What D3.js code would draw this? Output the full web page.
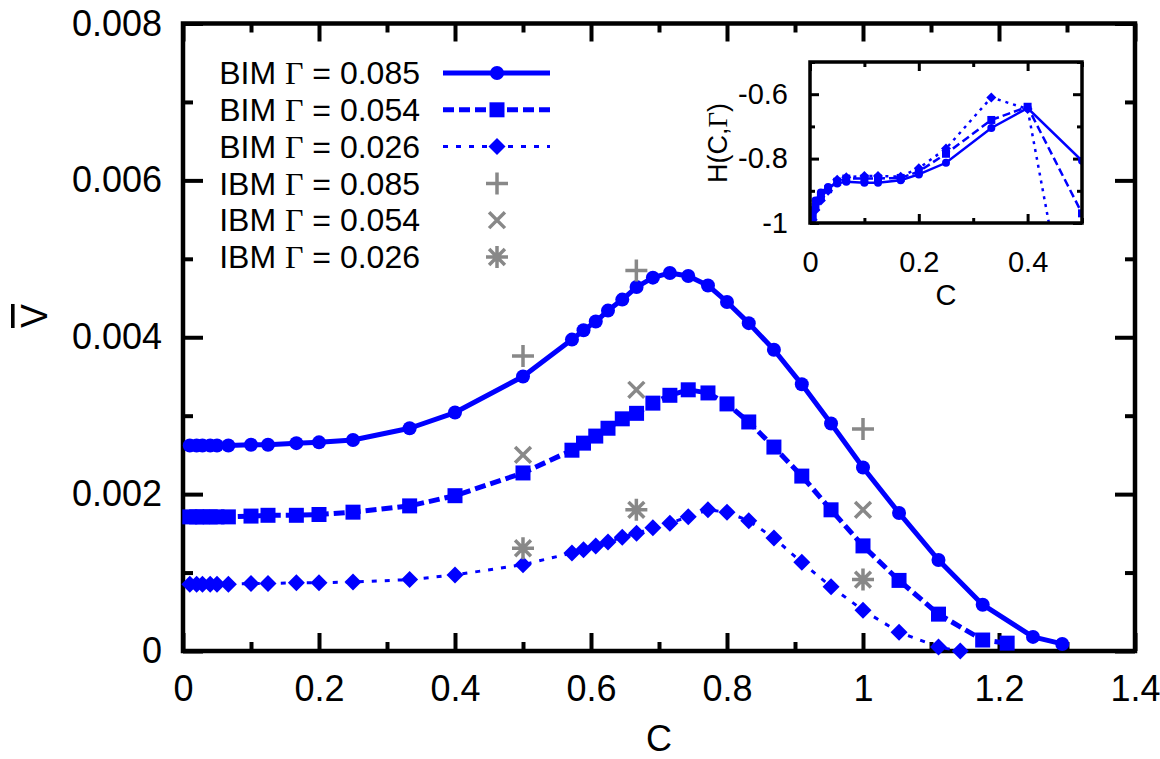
<!DOCTYPE html>
<html>
<head>
<meta charset="utf-8">
<script src="https://cdn.jsdelivr.net/npm/d3@7"></script>
<style>
body { margin: 0; background: #fff; }
svg { display: block; font-family: 'Liberation Sans', Arial, sans-serif; }
</style>
</head>
<body>
<div class="chart"></div>
<script>

// BIM curves (lines + points)
const c085 = [0.01, 0.02, 0.0286, 0.04, 0.05, 0.0667, 0.1, 0.125, 0.1667, 0.2, 0.25, 0.3333, 0.4, 0.5, 0.572, 0.589, 0.607, 0.625, 0.646, 0.667, 0.691, 0.716, 0.743, 0.772, 0.8, 0.832, 0.869, 0.91, 0.953, 1.0, 1.053, 1.111, 1.176, 1.25, 1.293]
const v085 = [0.00262, 0.00262, 0.00262, 0.00262, 0.00262, 0.00262, 0.00263, 0.00263, 0.00265, 0.00266, 0.00269, 0.00284, 0.00304, 0.00350, 0.00397, 0.00409, 0.00420, 0.00434, 0.00448, 0.00464, 0.00476, 0.00482, 0.00478, 0.00466, 0.00445, 0.00418, 0.00384, 0.00340, 0.00290, 0.00234, 0.00176, 0.00116, 0.00059, 0.00018, 0.00009]

const c054 = [0.01, 0.02, 0.0286, 0.04, 0.05, 0.0667, 0.1, 0.125, 0.1667, 0.2, 0.25, 0.3333, 0.4, 0.5, 0.572, 0.589, 0.607, 0.625, 0.646, 0.667, 0.691, 0.716, 0.743, 0.772, 0.8, 0.832, 0.869, 0.91, 0.953, 1.0, 1.053, 1.111, 1.176, 1.212]
const v054 = [0.00171, 0.00171, 0.00171, 0.00171, 0.00171, 0.00171, 0.00172, 0.00173, 0.00173, 0.00174, 0.00177, 0.00185, 0.00198, 0.00227, 0.00256, 0.00265, 0.00274, 0.00284, 0.00296, 0.00303, 0.00316, 0.00326, 0.00333, 0.00329, 0.00315, 0.00292, 0.00260, 0.00223, 0.00180, 0.00134, 0.00090, 0.00047, 0.00014, 0.00010]

const c026 = [0.01, 0.02, 0.0286, 0.04, 0.05, 0.0667, 0.1, 0.125, 0.1667, 0.2, 0.25, 0.3333, 0.4, 0.5, 0.572, 0.589, 0.607, 0.625, 0.646, 0.667, 0.691, 0.716, 0.743, 0.772, 0.8, 0.832, 0.869, 0.91, 0.953, 1.0, 1.053, 1.111, 1.143]
const v026 = [0.00085, 0.00085, 0.00085, 0.00085, 0.00085, 0.00085, 0.00086, 0.00086, 0.00087, 0.00087, 0.00088, 0.00091, 0.00097, 0.00110, 0.00125, 0.00129, 0.00134, 0.00139, 0.00145, 0.00150, 0.00157, 0.00163, 0.00171, 0.00180, 0.00177, 0.00166, 0.00144, 0.00113, 0.00082, 0.00052, 0.00024, 0.00005, 0]

// IBM points
const cIBM = [0.5, 0.6667, 1.0]
const ibm085 = [0.00376, 0.00485, 0.00283]
const ibm054 = [0.00250, 0.00333, 0.00180]
const ibm026 = [0.00131, 0.00180, 0.00091]

// inset H(C, Gamma)
const cInset = [0.005, 0.01, 0.02, 0.0333, 0.05, 0.0667, 0.1, 0.125, 0.1667, 0.2, 0.25, 0.3333, 0.4, 0.5]
const h085 = [-0.96, -0.93, -0.905, -0.888, -0.877, -0.872, -0.875, -0.875, -0.867, -0.849, -0.813, -0.705, -0.643, -0.807]
const h054 = [-0.98, -0.95, -0.92, -0.895, -0.872, -0.862, -0.862, -0.862, -0.86, -0.84, -0.785, -0.68, -0.639, -0.97]
const h026 = [-0.99, -0.96, -0.93, -0.9, -0.866, -0.858, -0.854, -0.854, -0.856, -0.83, -0.769, -0.61, -0.646, -1.55]

const legendLabels = [
	['BIM', '0.085'], ['BIM', '0.054'], ['BIM', '0.026'],
	['IBM', '0.085'], ['IBM', '0.054'], ['IBM', '0.026']
]

const blue = '#0000ff'
const grey = '#888888'

let width = 1160
let height = 759

let svg = d3.select('.chart').append('svg')
.attr('width', width)
.attr('height', height)

let x = d3.scaleLinear().domain([0, 1.4]).range([183, 1135])
let y = d3.scaleLinear().domain([0, 0.008]).range([651, 23.5])

const fmt = d => String(+d.toFixed(4))

// marker shapes
const markPath = (type, s) => {
	if (type === 'circle') return d3.symbol(d3.symbolCircle, Math.PI * s * s)()
	if (type === 'square') return d3.symbol(d3.symbolSquare, (2 * s) * (2 * s))()
	if (type === 'diamond') return `M0,${-s}L${s},0L0,${s}L${-s},0Z`
	let plus = `M${-s},0L${s},0M0,${-s}L0,${s}`
	let k = s * 0.72
	let cross = `M${-k},${-k}L${k},${k}M${-k},${k}L${k},${-k}`
	if (type === 'plus') return plus
	if (type === 'cross') return cross
	return plus + cross
}

// axes: ticks on all four sides pointing inwards
const drawTicks = (g, axis) => {
	g.call(axis)
	g.select('.domain').remove()
	g.selectAll('.tick line').attr('stroke', '#000').attr('stroke-width', 4)
}

let xMajor = x.ticks(7)
let xMinor = x.ticks(14).filter(d => !xMajor.some(m => Math.abs(m - d) < 1e-9))
let yMajor = y.ticks(4)
let yMinor = y.ticks(8).filter(d => !yMajor.some(m => Math.abs(m - d) < 1e-9))

let axes = svg.append('g')

axes.append('g').attr('transform', 'translate(0,651)')
.call(drawTicks, d3.axisBottom(x).tickValues(xMajor).tickSize(-18).tickPadding(24).tickFormat(fmt))
axes.append('g').attr('transform', 'translate(0,651)')
.call(drawTicks, d3.axisBottom(x).tickValues(xMinor).tickSize(-9).tickFormat(''))
axes.append('g').attr('transform', 'translate(0,23.5)')
.call(drawTicks, d3.axisTop(x).tickValues(xMajor).tickSize(-18).tickFormat(''))
axes.append('g').attr('transform', 'translate(0,23.5)')
.call(drawTicks, d3.axisTop(x).tickValues(xMinor).tickSize(-9).tickFormat(''))

axes.append('g').attr('transform', 'translate(183,0)')
.call(drawTicks, d3.axisLeft(y).tickValues(yMajor).tickSize(-20).tickPadding(21).tickFormat(fmt))
axes.append('g').attr('transform', 'translate(183,0)')
.call(drawTicks, d3.axisLeft(y).tickValues(yMinor).tickSize(-10).tickFormat(''))
axes.append('g').attr('transform', 'translate(1135,0)')
.call(drawTicks, d3.axisRight(y).tickValues(yMajor).tickSize(-20).tickFormat(''))
axes.append('g').attr('transform', 'translate(1135,0)')
.call(drawTicks, d3.axisRight(y).tickValues(yMinor).tickSize(-10).tickFormat(''))

axes.selectAll('.tick text')
.attr('font-family', "'Liberation Sans', Arial, sans-serif")
.attr('font-size', 36)
.attr('fill', '#000')

svg.append('rect')
.attr('x', x(0)).attr('y', y(0.008))
.attr('width', x(1.4) - x(0)).attr('height', y(0) - y(0.008))
.attr('fill', 'none').attr('stroke', '#000').attr('stroke-width', 4.5)

// axis titles
svg.append('text')
.attr('x', (x(0) + x(1.4)) / 2).attr('y', 751)
.attr('text-anchor', 'middle').attr('font-size', 36)
.text('C')

svg.append('text')
.attr('transform', 'translate(47,316) rotate(-90)')
.attr('text-anchor', 'middle').attr('font-size', 36)
.style('text-decoration', 'overline')
.text('V')

// BIM series
const series = [
	{c: c085, v: v085, shape: 'circle', size: 7, lw: 5, dash: null},
	{c: c054, v: v054, shape: 'square', size: 7.5, lw: 5, dash: '11,5'},
	{c: c026, v: v026, shape: 'diamond', size: 8.5, lw: 3, dash: '5,8'}
]

let line = d3.line().x(d => x(d[0])).y(d => y(d[1]))

series.forEach(s => {
	let pts = d3.zip(s.c, s.v)
	svg.append('path')
	.attr('d', line(pts))
	.attr('fill', 'none')
	.attr('stroke', blue)
	.attr('stroke-width', s.lw)
	.attr('stroke-dasharray', s.dash)
	.attr('stroke-linejoin', 'round')

	svg.append('g')
	.selectAll('path')
	.data(pts)
	.enter()
	.append('path')
	.attr('transform', d => `translate(${x(d[0])},${y(d[1])})`)
	.attr('d', markPath(s.shape, s.size))
	.attr('fill', blue)
})

// IBM points
const ibm = [
	{v: ibm085, shape: 'plus'},
	{v: ibm054, shape: 'cross'},
	{v: ibm026, shape: 'star'}
]

ibm.forEach(s => {
	svg.append('g')
	.selectAll('path')
	.data(d3.zip(cIBM, s.v))
	.enter()
	.append('path')
	.attr('transform', d => `translate(${x(d[0])},${y(d[1])})`)
	.attr('d', markPath(s.shape, 11))
	.attr('fill', 'none')
	.attr('stroke', grey)
	.attr('stroke-width', 3.5)
})

// legend
let legend = svg.append('g')

legendLabels.forEach((lab, i) => {
	let ry = 73 + i * 36.8
	let t = legend.append('text')
	.attr('x', 420).attr('y', ry).attr('dy', '0.35em')
	.attr('text-anchor', 'end').attr('font-size', 32)
	t.append('tspan').text(lab[0] + ' ')
	t.append('tspan').attr('font-family', "'Liberation Serif', 'Times New Roman', serif").text('\u0393')
	t.append('tspan').text(' = ' + lab[1])

	if (i < 3) {
		let s = series[i]
		legend.append('line')
		.attr('x1', 443).attr('x2', 550).attr('y1', ry).attr('y2', ry)
		.attr('stroke', blue).attr('stroke-width', s.lw)
		.attr('stroke-dasharray', s.dash)
		legend.append('path')
		.attr('transform', `translate(497,${ry})`)
		.attr('d', markPath(s.shape, s.size))
		.attr('fill', blue)
	} else {
		legend.append('path')
		.attr('transform', `translate(497,${ry})`)
		.attr('d', markPath(ibm[i - 3].shape, 11))
		.attr('fill', 'none').attr('stroke', grey).attr('stroke-width', 3.5)
	}
})

// inset
let ix = d3.scaleLinear().domain([0, 0.5]).range([810, 1082])
let iy = d3.scaleLinear().domain([-1, -0.5]).range([223, 62])

let inset = svg.append('g')

inset.append('rect')
.attr('x', ix(0)).attr('y', iy(-0.5))
.attr('width', ix(0.5) - ix(0)).attr('height', iy(-1) - iy(-0.5))
.attr('fill', '#fff')

svg.append('clipPath').attr('id', 'inset-clip')
.append('rect')
.attr('x', ix(0)).attr('y', iy(-0.5))
.attr('width', ix(0.5) - ix(0)).attr('height', iy(-1) - iy(-0.5))

const drawInsetTicks = (g, axis) => {
	g.call(axis)
	g.select('.domain').remove()
	g.selectAll('.tick line').attr('stroke', '#000').attr('stroke-width', 3)
	g.selectAll('.tick text')
	.attr('font-family', "'Liberation Sans', Arial, sans-serif")
	.attr('font-size', 29).attr('fill', '#000')
}

const fmtInset = d => String(+d.toFixed(1)).replace('\u2212', '-')

inset.append('g').attr('transform', `translate(0,${iy(-1)})`)
.call(drawInsetTicks, d3.axisBottom(ix).tickValues([0, 0.2, 0.4]).tickSize(-9).tickPadding(28).tickFormat(fmtInset))
inset.append('g').attr('transform', `translate(0,${iy(-1)})`)
.call(drawInsetTicks, d3.axisBottom(ix).tickValues([0.1, 0.3, 0.5]).tickSize(-5).tickFormat(''))
inset.append('g').attr('transform', `translate(0,${iy(-0.5)})`)
.call(drawInsetTicks, d3.axisTop(ix).tickValues([0, 0.2, 0.4]).tickSize(-9).tickFormat(''))
inset.append('g').attr('transform', `translate(0,${iy(-0.5)})`)
.call(drawInsetTicks, d3.axisTop(ix).tickValues([0.1, 0.3, 0.5]).tickSize(-5).tickFormat(''))
inset.append('g').attr('transform', `translate(${ix(0)},0)`)
.call(drawInsetTicks, d3.axisLeft(iy).tickValues([-1, -0.8, -0.6]).tickSize(-9).tickPadding(22).tickFormat(fmtInset))
inset.append('g').attr('transform', `translate(${ix(0)},0)`)
.call(drawInsetTicks, d3.axisLeft(iy).tickValues([-0.9, -0.7, -0.5]).tickSize(-5).tickFormat(''))
inset.append('g').attr('transform', `translate(${ix(0.5)},0)`)
.call(drawInsetTicks, d3.axisRight(iy).tickValues([-1, -0.8, -0.6]).tickSize(-9).tickFormat(''))
inset.append('g').attr('transform', `translate(${ix(0.5)},0)`)
.call(drawInsetTicks, d3.axisRight(iy).tickValues([-0.9, -0.7, -0.5]).tickSize(-5).tickFormat(''))

const insetSeries = [
	{h: h085, shape: 'circle', size: 4, dash: null},
	{h: h054, shape: 'square', size: 4, dash: '8,4'},
	{h: h026, shape: 'diamond', size: 5, dash: '3,5'}
]

let iline = d3.line().x(d => ix(d[0])).y(d => iy(d[1]))
let insetData = inset.append('g').attr('clip-path', 'url(#inset-clip)')

insetSeries.forEach(s => {
	let pts = d3.zip(cInset, s.h)
	insetData.append('path')
	.attr('d', iline(pts))
	.attr('fill', 'none')
	.attr('stroke', blue)
	.attr('stroke-width', 2.5)
	.attr('stroke-dasharray', s.dash)

	insetData.append('g')
	.selectAll('path')
	.data(pts)
	.enter()
	.append('path')
	.attr('transform', d => `translate(${ix(d[0])},${iy(d[1])})`)
	.attr('d', markPath(s.shape, s.size))
	.attr('fill', blue)
})

inset.append('rect')
.attr('x', ix(0)).attr('y', iy(-0.5))
.attr('width', ix(0.5) - ix(0)).attr('height', iy(-1) - iy(-0.5))
.attr('fill', 'none').attr('stroke', '#000').attr('stroke-width', 3.5)

inset.append('text')
.attr('x', (ix(0) + ix(0.5)) / 2).attr('y', 305)
.attr('text-anchor', 'middle').attr('font-size', 29)
.text('C')

let hLabel = inset.append('text')
.attr('transform', 'translate(727,143) rotate(-90)')
.attr('text-anchor', 'middle').attr('font-size', 27)
hLabel.append('tspan').text('H(C,')
hLabel.append('tspan').attr('font-family', "'Liberation Serif', 'Times New Roman', serif").text('\u0393')
hLabel.append('tspan').text(')')

</script>
</body>
</html>
